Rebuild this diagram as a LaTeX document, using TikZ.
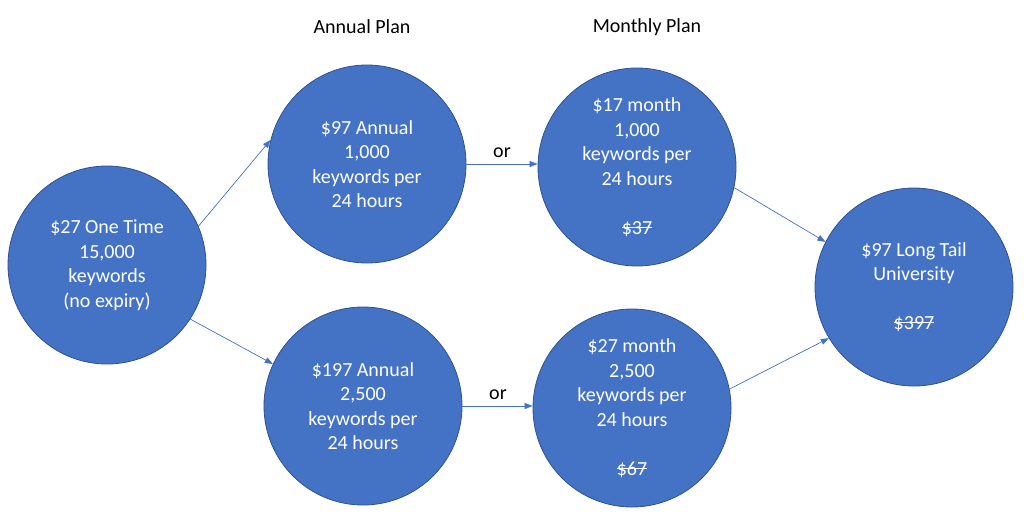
\documentclass[tikz,border=0pt]{standalone}
\usepackage{fontspec}
\setmainfont{Carlito}
\usetikzlibrary{arrows.meta}
\definecolor{blfill}{HTML}{4472C4}
\definecolor{bldraw}{HTML}{2F528F}
\newcommand\strk[1]{\setbox0\hbox{#1}\rlap{\raise0.5\ht0\hbox to\wd0{\leaders\hrule height 0.7pt\hfill}}\box0}
\tikzset{
  plan/.style={circle, fill=blfill, draw=bldraw, line width=0.8pt, minimum size=198pt, inner sep=0pt,
    text=white, align=center, font=\fontsize{20}{24.5}\selectfont},
  lbl/.style={text=black, font=\fontsize{20}{24.5}\selectfont, inner sep=0pt},
  conn/.style={draw=blfill, line width=0.7pt, -{Triangle[length=8pt,width=6pt]}}
}
\begin{document}
\begin{tikzpicture}[x=1pt,y=-1pt]
\useasboundingbox (0,0) rectangle (1024,520);
\fill[white] (0,0) rectangle (1024,520);
\node[plan] (one) at (107,265) {\$27 One Time\\15,000\\keywords\\(no expiry)};
\node[plan] (a1) at (367,164) {\$97 Annual\\1,000\\keywords per\\24 hours};
\node[plan] (m1) at (637,167) {\$17 month\\1,000\\keywords per\\24 hours\\[24.5pt]\strk{\$37}};
\node[plan] (a2) at (363,406) {\$197 Annual\\2,500\\keywords per\\24 hours};
\node[plan] (m2) at (632,408) {\$27 month\\2,500\\keywords per\\24 hours\\[24.5pt]\strk{\$67}};
\node[plan] (lt) at (914,287) {\$97 Long Tail\\University\\[24.5pt]\strk{\$397}};
\node[lbl] (ha) at (362,27) {Annual Plan};
\node[lbl] (hm) at (647,27) {Monthly Plan};
\node[lbl] (or1) at (502,153) {or};
\node[lbl] (or2) at (498,395) {or};
\draw[conn] (one.23) -- (a1.166);
\draw[conn] (one.-33) -- (a2.155);
\draw[conn] (a1.east) -- (m1.west |- a1.east);
\draw[conn] (a2.east) -- (m2.west |- a2.east);
\draw[conn] (m1.-12) -- (lt.153);
\draw[conn] (m2.11) -- (lt.211);
\end{tikzpicture}
\end{document}
